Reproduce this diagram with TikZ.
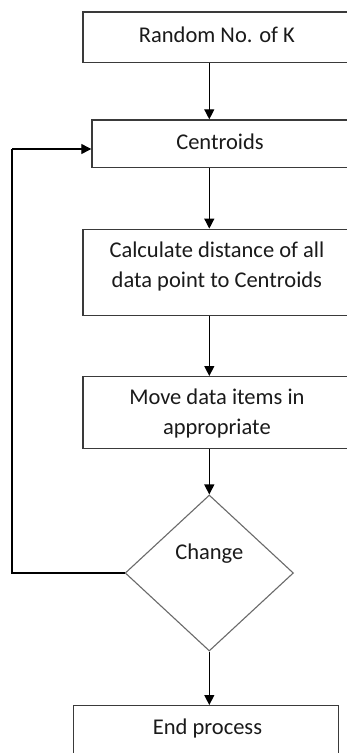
\documentclass[tikz,border=0pt]{standalone}
\usepackage{fontspec}
\setmainfont{Carlito}
\usetikzlibrary{shapes.geometric,arrows.meta}
\definecolor{boxline}{HTML}{3A3A3A}
\definecolor{diamline}{HTML}{6A6A6A}
\definecolor{txtcol}{HTML}{1A1A1A}
\tikzset{
  box/.style={draw=boxline, line width=1.4pt, rectangle, inner sep=0pt},
  txt/.style={text=txtcol, align=center, inner sep=0pt, font=\fontsize{22.5}{30}\selectfont},
  decision/.style={draw=diamline, line width=1.1pt, diamond, inner sep=0pt},
  arr/.style={draw=black, line width=1.3pt, -{Triangle[width=10pt,length=10pt]}},
  fbline/.style={draw=black, line width=1.3pt}
}
\begin{document}
\begin{tikzpicture}[x=1pt,y=-1pt]
\useasboundingbox (0,0) rectangle (347,753);
\clip (0,0) rectangle (347,753);
\fill[white] (0,0) rectangle (347,753);
% boxes
\node[box, minimum width=268pt, minimum height=50.7pt] (b1) at (216.9,37.35) {};
\node[txt] at (216.9,34.5) {Random No. of K};
\node[box, minimum width=256pt, minimum height=47.7pt] (b2) at (220,143.85) {};
\node[txt] at (220,142) {Centroids};
\node[box, minimum width=268pt, minimum height=86.4pt] (b3) at (216.9,272.5) {};
\node[txt] at (216.9,266.7) {Calculate distance of all\\data point to Centroids};
\node[box, minimum width=268pt, minimum height=71.6pt] (b4) at (216.9,412.5) {};
\node[txt] at (216.9,413.3) {Move data items in\\appropriate};
\node[decision, minimum width=168.3pt, minimum height=156pt] (d) at (209.3,573) {};
\node[txt] at (209.3,554) {Change};
\node[box, minimum width=265pt, minimum height=54.3pt] (b5) at (205.8,732.85) {};
\node[txt] at (207.5,728) {End process};
% connectors
\draw[arr] (b1.south -| d.north) -- (b2.north -| d.north);
\draw[arr] (b2.south -| d.north) -- (b3.north -| d.north);
\draw[arr] (b3.south -| d.north) -- (b4.north -| d.north);
\draw[arr] (b4.south -| d.north) -- (d.north);
\draw[arr] (d.south) -- (b5.north -| d.south);
\coordinate (loopx) at (12,149);
\coordinate (b2in) at (b2.west |- loopx);
\draw[fbline] (d.west) -| (loopx);
\draw[arr] (loopx) -- (b2in);
\end{tikzpicture}
\end{document}
